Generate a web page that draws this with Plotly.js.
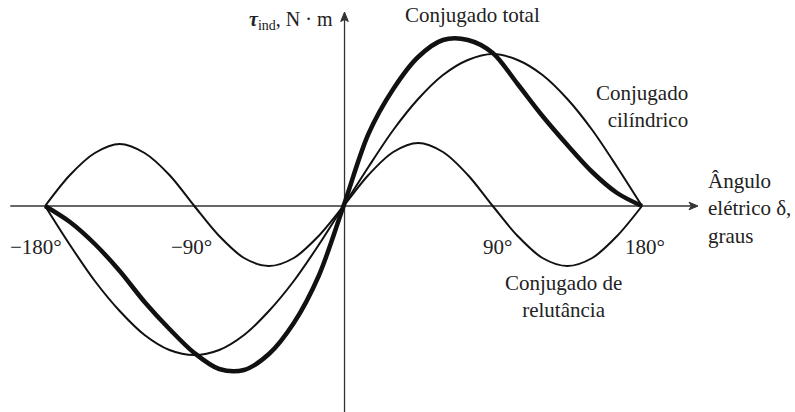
<!DOCTYPE html>
<html>
<head>
<meta charset="utf-8">
<script src="https://cdn.plot.ly/plotly-3.0.1.min.js"></script>
<style>
  html, body { margin: 0; padding: 0; background: #fff; }
  #chart { width: 795px; height: 412px; }
</style>
</head>
<body>
<div id="chart"></div>
<script>
// Electrical angle delta, degrees
const delta = [-180, -165, -150, -135, -120, -105, -90, -75, -60, -45, -30, -15, 0,
               15, 30, 45, 60, 75, 90, 105, 120, 135, 150, 165, 180];

// Cylindrical-rotor torque component
const cylindrical = [0, -39, -75, -105, -129, -144, -149, -144, -129, -105, -75, -39, 0,
                     39, 76, 107, 131, 146, 152, 146, 131, 107, 76, 39, 0];

// Reluctance torque component
const reluctance = [0, 31, 53, 62, 53, 31, 0, -30, -52, -60, -52, -30, 0,
                    31, 54, 63, 54, 31, 0, -30, -52, -60, -52, -30, 0];

// Total induced torque
const total = [0, -16, -38, -65, -96, -123, -147, -163, -164, -148, -117, -70, 0,
               72, 117, 149, 166, 166, 153, 122, 90, 61, 34, 13, 0];

// Angle tick labels on the horizontal axis
const tickAngles = [-180, -90, 90, 180];
const tickText = ['−180°', '−90°', '90°', '180°'];
const tickOffset = [-5.4, -1.4, 2.6, 1.8];

const serif = "'Liberation Serif', 'Times New Roman', serif";
const axisColor = '#333';
const textColor = '#222';

const curve = (y, w) => ({
  x: delta, y: y, type: 'scatter', mode: 'lines',
  line: { color: '#111', width: w, shape: 'spline', smoothing: 0.9 },
  hoverinfo: 'skip', showlegend: false
});

const traces = [
  curve(reluctance, 2),
  curve(cylindrical, 2),
  curve(total, 4.5)
];

const label = (x, y, text, opts) => Object.assign({
  x: x, y: y, text: text, showarrow: false,
  xanchor: 'center', yanchor: 'middle',
  font: { family: serif, size: 21, color: textColor }
}, opts || {});

const annotations = tickAngles.map((a, i) => label(a + tickOffset[i], -41, tickText[i]));

annotations.push(
  label(-5, 186, '<b><i>τ</i></b><sub>ind</sub>, N · m',
        { xanchor: 'right', font: { family: serif, size: 20, color: textColor } }),
  label(77.5, 191, 'Conjugado total'),
  label(209, 100, 'Conjugado<br>cilíndrico', { xanchor: 'right', align: 'right' }),
  label(218.5, -2, 'Ângulo<br>elétrico δ,<br>graus', { xanchor: 'left', align: 'left' }),
  label(132.4, -90, 'Conjugado de<br>relutância', { align: 'center' })
);

const layout = {
  width: 795, height: 412,
  margin: { l: 0, r: 0, t: 0, b: 0 },
  paper_bgcolor: '#fff', plot_bgcolor: '#fff',
  xaxis: { range: [-207.2, 272.3], visible: false, fixedrange: true },
  yaxis: { range: [-206, 206], visible: false, fixedrange: true },
  shapes: [
    // delta axis with arrowhead
    { type: 'line', layer: 'below', x0: -201, x1: 210, y0: 0, y1: 0,
      line: { color: axisColor, width: 1.3 } },
    { type: 'path', layer: 'below', path: 'M 213.8 0 L 208.4 3.8 L 209.8 0 L 208.4 -3.8 Z',
      fillcolor: axisColor, line: { color: axisColor, width: 1 } },
    // torque axis with arrowhead
    { type: 'line', layer: 'below', x0: 0.6, x1: 0.6, y0: -210, y1: 188,
      line: { color: axisColor, width: 1.3 } },
    { type: 'path', layer: 'below', path: 'M 0.6 194 L -1.7 184.5 L 0.6 186.5 L 2.9 184.5 Z',
      fillcolor: axisColor, line: { color: axisColor, width: 1 } }
  ],
  annotations: annotations
};

Plotly.newPlot('chart', traces, layout, { staticPlot: true, displayModeBar: false });
</script>
</body>
</html>
